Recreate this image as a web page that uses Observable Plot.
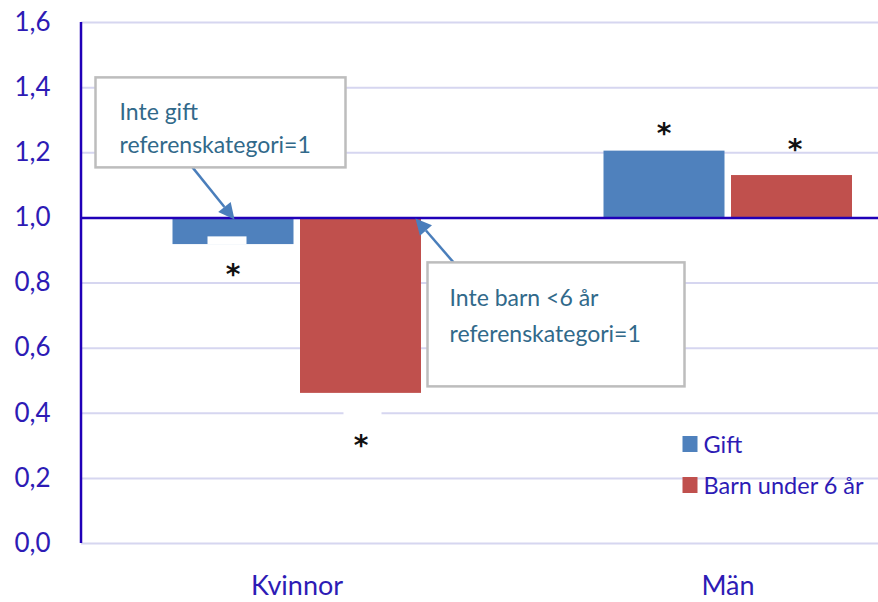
<!DOCTYPE html>
<html><head><meta charset="utf-8">
<script src="https://cdn.jsdelivr.net/npm/d3@7"></script>
<script src="https://cdn.jsdelivr.net/npm/@observablehq/plot@0.6"></script>
<style>body{margin:0;background:#fff;} #chart svg{overflow:visible;}</style>
</head><body><div id="chart"></div>
<script>
// ---- data ----
const categories = ["Kvinnor", "Män"];
const seriesNames = ["Gift", "Barn under 6 år"];
const giftValues = [0.918, 1.205];
const barnValues = [0.461, 1.130];
const giftSignificant = [true, true];
const barnSignificant = [true, true];
const referenceLevel = 1;
const yTicks = [0, 0.2, 0.4, 0.6, 0.8, 1.0, 1.2, 1.4, 1.6];
const noteGift = ["Inte gift", "referenskategori=1"];
const noteBarn = ["Inte barn <6 år", "referenskategori=1"];

// ---- styles ----
const BLUE = "#4F81BD", RED = "#C0504D";
const AXIS = "#2000B8", LABEL = "#2D1BB5", GRID = "#D6D6F0", NOTE = "#31698A";
const FONT = "Lato, 'Open Sans', sans-serif";

const rows = categories.map((c, i) => ({cat: c, gift: giftValues[i], barn: barnValues[i]}));
const fmt = v => d3.format(".1f")(v).replace(".", ",");

const W = 878, H = 602;
const marks = [
  Plot.ruleY(yTicks, {stroke: GRID, strokeWidth: 2}),
  Plot.barY(rows, {x: "cat", y1: () => referenceLevel, y2: "gift", fill: BLUE, insetLeft: 91.5, insetRight: 218.5}),
  Plot.barY(rows, {x: "cat", y1: () => referenceLevel, y2: "barn", fill: RED, insetLeft: 219, insetRight: 91}),
  Plot.ruleY([referenceLevel], {stroke: AXIS, strokeWidth: 2.5}),
  Plot.axisY({ticks: yTicks, tickFormat: fmt, tickSize: 0, tickPadding: 31, fontSize: 26, fill: LABEL, fontFamily: FONT}),
  Plot.axisX({tickSize: 0, tickPadding: 32, fontSize: 27, fill: LABEL, fontFamily: FONT})
];
// significance asterisks
const starOffsets = [[{dx: -64, dy: 30}, {dx: 64, dy: 53}], [{dx: -64, dy: -17}, {dx: 67, dy: -26}]];
rows.forEach((r, i) => {
  if (giftSignificant[i]) marks.push(Plot.text([r], {x: "cat", y: "gift", text: () => "*", fontSize: 28, fill: "#111", fontWeight: "bold", fontFamily: "'DejaVu Sans'", dx: starOffsets[i][0].dx, dy: starOffsets[i][0].dy}));
  if (barnSignificant[i]) marks.push(Plot.text([r], {x: "cat", y: "barn", text: () => "*", fontSize: 28, fill: "#111", fontWeight: "bold", fontFamily: "'DejaVu Sans'", dx: starOffsets[i][1].dx, dy: starOffsets[i][1].dy}));
});

const chart = Plot.plot({
  width: W, height: H,
  marginLeft: 81, marginRight: 0, marginTop: 22, marginBottom: 59,
  style: {background: "#fff", fontFamily: FONT},
  x: {domain: categories, range: [80.5, 942.5], padding: 0, label: null},
  y: {domain: [0, 1.6], label: null},
  marks
});
document.getElementById("chart").appendChild(chart);

// ---- annotations, axis line & legend drawn with the plot's own scales ----
const xs = chart.scale("x"), ys = chart.scale("y");
const svg = d3.select(chart);
const g = svg.append("g").attr("text-anchor", "start");
const k0 = xs.apply("Kvinnor"); // band start
const yRef = ys.apply(referenceLevel);

// vertical value axis line
g.append("line").attr("x1", 81).attr("x2", 81).attr("y1", ys.apply(1.6)).attr("y2", ys.apply(0))
  .attr("stroke", AXIS).attr("stroke-width", 2.5);

// white artefacts of the original (notch in the Gift bar, gap in the 0,4 gridline)
g.append("rect").attr("x", k0 + 126.5).attr("y", yRef + 19).attr("width", 39).attr("height", 8).attr("fill", "#fff");
g.append("rect").attr("x", k0 + 262.5).attr("y", ys.apply(0.4) - 3).attr("width", 38).attr("height", 6).attr("fill", "#fff");

function arrow(x1, y1, x2, y2) {
  const a = Math.atan2(y2 - y1, x2 - x1), L = 16, Wd = 8;
  const bx = x2 - L * Math.cos(a), by = y2 - L * Math.sin(a);
  g.append("line").attr("x1", x1).attr("y1", y1).attr("x2", bx).attr("y2", by)
    .attr("stroke", "#4A7EBB").attr("stroke-width", 2.5);
  g.append("path").attr("d", `M${x2},${y2}L${bx + Wd * Math.sin(a)},${by - Wd * Math.cos(a)}L${bx - Wd * Math.sin(a)},${by + Wd * Math.cos(a)}Z`)
    .attr("fill", "#4A7EBB");
}
function box(x, y, w, h, lines, tx, ty, lh) {
  g.append("rect").attr("x", x).attr("y", y).attr("width", w).attr("height", h)
    .attr("fill", "#fff").attr("stroke", "#BDBDBD").attr("stroke-width", 2.5);
  lines.forEach((t, i) => g.append("text").attr("x", tx).attr("y", ty + i * lh).text(t)
    .attr("text-anchor", "start").attr("fill", NOTE).attr("font-size", 23).attr("font-family", FONT));
}
arrow(k0 + 111.5, yRef - 50, k0 + 153.5, yRef + 2);
box(k0 + 14.5, yRef - 140, 250, 90, noteGift, k0 + 38.5, yRef - 97, 33);
arrow(k0 + 372.5, yRef + 45, k0 + 334.5, yRef + 1);
box(k0 + 346.5, yRef + 45, 257, 124, noteBarn, k0 + 368.5, yRef + 89, 36);

// legend
const legend = [[seriesNames[0], BLUE], [seriesNames[1], RED]];
legend.forEach(([name, col], i) => {
  const ly = 453 + i * 41;
  g.append("rect").attr("x", k0 + 601.5).attr("y", ly - 17).attr("width", 15).attr("height", 16).attr("fill", col);
  g.append("text").attr("x", k0 + 622.5).attr("y", ly).text(name)
    .attr("text-anchor", "start").attr("fill", LABEL).attr("font-size", 23.5).attr("font-family", FONT);
});
</script></body></html>
